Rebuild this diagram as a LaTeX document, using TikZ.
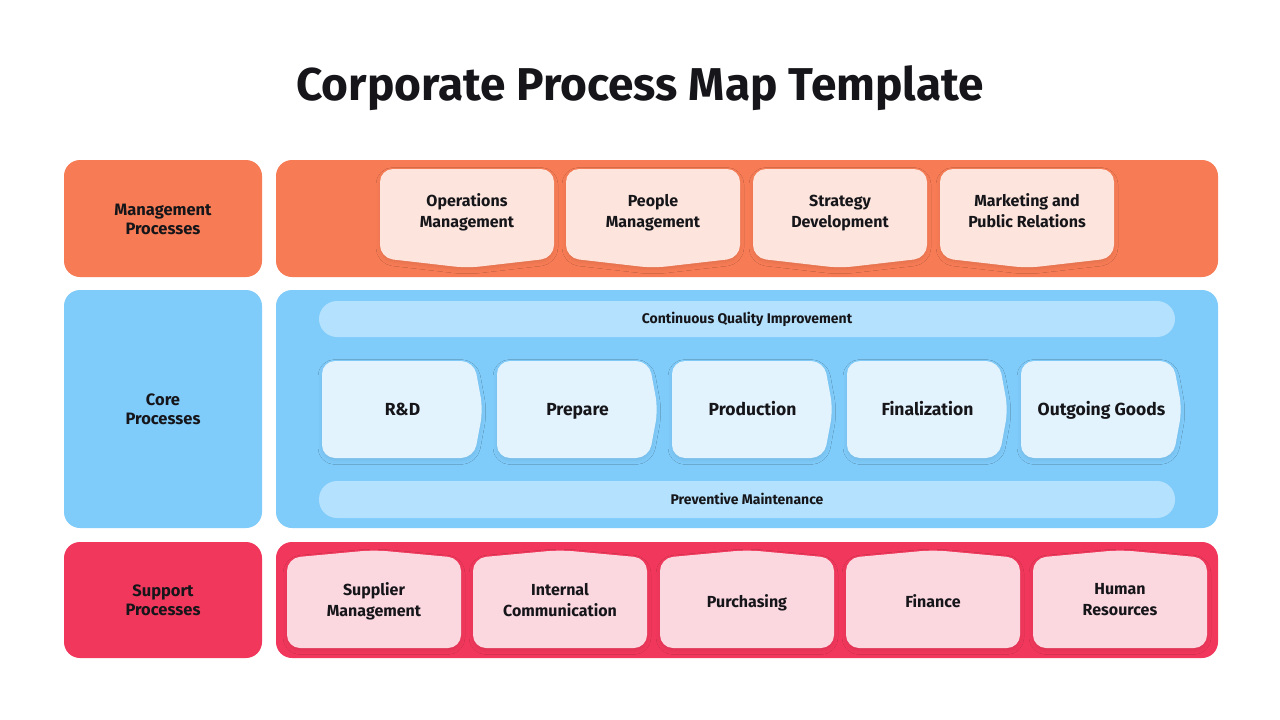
\documentclass[tikz,border=0pt]{standalone}
\usepackage{fontspec}
\setmainfont{Fira Sans}
\usetikzlibrary{shadows.blur}

\definecolor{mgmtOrange}{RGB}{247,124,85}
\definecolor{mgmtLight}{RGB}{253,229,221}
\definecolor{coreBlue}{RGB}{127,203,250}
\definecolor{coreBand}{RGB}{180,225,253}
\definecolor{coreLight}{RGB}{227,243,254}
\definecolor{suppRed}{RGB}{241,56,92}
\definecolor{suppLight}{RGB}{251,216,224}
\definecolor{inkDark}{RGB}{22,22,26}

\tikzset{
  panel/.style={rounded corners=16},
  card/.style={rounded corners=13,
    blur shadow={shadow xshift=0pt, shadow yshift=-2.5pt,
                 shadow blur radius=4pt, shadow opacity=8}},
  struts/.style={execute at begin node=\strut, execute at end node=\strut},
  labeltext/.style={struts, align=center, text=inkDark,
    font=\bfseries\fontsize{16.5}{19.5}\selectfont},
  cardtext/.style={struts, align=center, text=inkDark,
    font=\bfseries\fontsize{16}{21}\selectfont},
  chevtext/.style={anchor=base, text=inkDark,
    font=\bfseries\fontsize{17.5}{20}\selectfont},
  bandtext/.style={text=inkDark, font=\bfseries\fontsize{14}{16}\selectfont},
}

\begin{document}
\begin{tikzpicture}[x=1pt,y=-1pt]

% ---------- parameters ----------
\def\cardW{174}  % width of management / support cards
\def\chevW{161}  % width of core chevrons, tip included

\useasboundingbox[fill=white] (0,0) rectangle (1280,720);

% title
\node[anchor=base, text=inkDark, font=\bfseries\fontsize{46}{52}\selectfont]
  (title) at (640,100) {Corporate Process Map Template};

% -------- MANAGEMENT --------
\fill[mgmtOrange,panel] (64,160) rectangle (262,277);
\node[labeltext] (mgmtLabel) at (163,222) {Management\\Processes};
\fill[mgmtOrange,panel] (276,160) rectangle (1218,277);

\foreach \x/\txt [count=\i] in {380/{Operations\\Management},
    566/{People\\Management}, 753/{Strategy\\Development},
    940/{Marketing and\\Public Relations}} {
  \fill[mgmtLight,card] (\x,169) -- (\x+\cardW,169) -- (\x+\cardW,258)
    -- (\x+\cardW/2,268) -- (\x,258) -- cycle;
  \node[cardtext] (mgmt\i) at (\x+\cardW/2,214) {\txt};
}

% -------- CORE --------
\fill[coreBlue,panel] (64,290) rectangle (262,528);
\node[labeltext] (coreLabel) at (163,412) {Core\\Processes};
\fill[coreBlue,panel] (276,290) rectangle (1218,528);

% bands
\fill[coreBand,rounded corners=18] (319,301) rectangle (1175,337);
\node[bandtext] (quality) at (747,319) {Continuous Quality Improvement};
\fill[coreBand,rounded corners=18] (319,481) rectangle (1175,518);
\node[bandtext] (maintenance) at (747,499) {Preventive Maintenance};

% chevrons
\foreach \x/\txt [count=\i] in {322/{R\&D}, 497/Prepare, 672/Production,
    847/Finalization, 1021/{Outgoing Goods}} {
  \fill[coreLight,card] (\x,361) -- (\x+\chevW-9,361) -- (\x+\chevW,409.5)
    -- (\x+\chevW-9,458) -- (\x,458) -- cycle;
  \node[chevtext] (core\i) at (\x+\chevW/2,415) {\txt};
}

% -------- SUPPORT --------
\fill[suppRed,panel] (64,542) rectangle (262,658);
\node[labeltext] (suppLabel) at (163,603) {Support\\Processes};
\fill[suppRed,panel] (276,542) rectangle (1218,658);

\foreach \x/\txt [count=\i] in {287/{Supplier\\Management},
    473/{Internal\\Communication}, 660/Purchasing, 846/Finance,
    1033/{Human\\Resources}} {
  \fill[suppLight,card] (\x,558) -- (\x+\cardW/2,550) -- (\x+\cardW,558)
    -- (\x+\cardW,648) -- (\x,648) -- cycle;
  \node[cardtext] (supp\i) at (\x+\cardW/2,603) {\txt};
}

\end{tikzpicture}
\end{document}
